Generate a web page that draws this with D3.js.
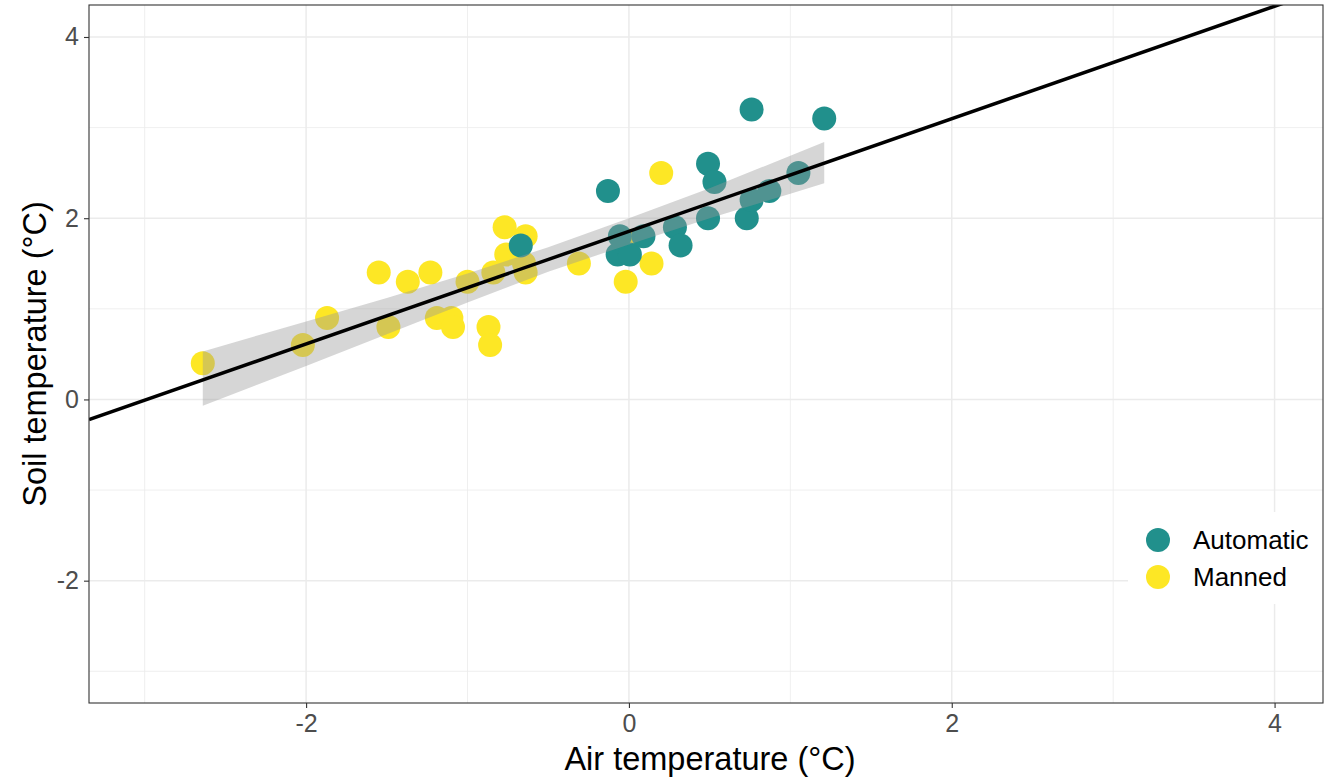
<!DOCTYPE html>
<html>
<head>
<meta charset="utf-8">
<script src="https://cdn.jsdelivr.net/npm/d3@7"></script>
<style>
  html, body { margin: 0; padding: 0; background: #fff; }
  svg { display: block; font-family: "Liberation Sans", Arial, sans-serif; }
</style>
</head>
<body>
<svg id="chart" width="1324" height="777"></svg>
<script>
// ---- data ----
const groups = ["Automatic", "Manned"];
const groupColors = ["#21908C", "#FDE725"];

const mannedX = [-2.64, -2.02, -1.87, -1.55, -1.49, -1.37, -1.23, -1.19, -1.10, -1.09, -1.00, -0.87, -0.86, -0.84, -0.77, -0.76, -0.64, -0.65, -0.64, -0.31, -0.02, 0.14, 0.20, 0.0];
const mannedY = [0.40, 0.60, 0.90, 1.40, 0.80, 1.30, 1.40, 0.90, 0.90, 0.80, 1.30, 0.80, 0.60, 1.40, 1.90, 1.60, 1.80, 1.50, 1.40, 1.50, 1.30, 1.50, 2.50, 1.75];

const autoX = [-0.67, -0.13, -0.07, -0.056, 0.006, 0.09, 0.285, 0.32, 0.49, 0.49, 0.53, 0.73, 0.76, 0.76, 0.87, 1.05, 1.21];
const autoY = [1.70, 2.30, 1.60, 1.80, 1.60, 1.80, 1.90, 1.70, 2.00, 2.60, 2.40, 2.00, 2.20, 3.20, 2.30, 2.50, 3.10];

// confidence band of the fit
const bandX  = [-2.64, -2.0, -1.5, -1.0, -0.5, 0.0, 0.5, 1.0, 1.21];
const bandLo = [-0.07, 0.37, 0.72, 1.07, 1.41, 1.71, 2.00, 2.27, 2.385];
const bandHi = [0.53, 0.86, 1.12, 1.39, 1.68, 2.00, 2.33, 2.69, 2.84];

// fitted line (intercept, slope)
const lineIntercept = 1.855;
const lineSlope = 0.621;

const xMajor = [-2, 0, 2, 4];
const xMinor = [-3, -1, 1, 3];
const yMajor = [-2, 0, 2, 4];
const yMinor = [-3, -1, 1, 3];

const xTitle = "Air temperature (°C)";
const yTitle = "Soil temperature (°C)";

// ---- layout ----
const svg = d3.select("#chart");
const P = { left: 89, right: 1323, top: 5, bottom: 703 };

const x = d3.scaleLinear().domain([-3.345, 4.30]).range([P.left, P.right]);
const y = d3.scaleLinear().domain([-3.35, 4.353]).range([P.bottom, P.top]);

svg.append("defs").append("clipPath").attr("id", "clip")
  .append("rect").attr("x", P.left).attr("y", P.top)
  .attr("width", P.right - P.left).attr("height", P.bottom - P.top);

// panel background
svg.append("rect").attr("x", P.left).attr("y", P.top)
  .attr("width", P.right - P.left).attr("height", P.bottom - P.top)
  .attr("fill", "#fff");

const grid = svg.append("g");
grid.selectAll(".xmin").data(xMinor).join("line")
  .attr("x1", d => x(d)).attr("x2", d => x(d)).attr("y1", P.top).attr("y2", P.bottom)
  .attr("stroke", "#EBEBEB").attr("stroke-width", 0.8);
grid.selectAll(".ymin").data(yMinor).join("line")
  .attr("y1", d => y(d)).attr("y2", d => y(d)).attr("x1", P.left).attr("x2", P.right)
  .attr("stroke", "#EBEBEB").attr("stroke-width", 0.8);
grid.selectAll(".xmaj").data(xMajor).join("line")
  .attr("x1", d => x(d)).attr("x2", d => x(d)).attr("y1", P.top).attr("y2", P.bottom)
  .attr("stroke", "#EBEBEB").attr("stroke-width", 1.5);
grid.selectAll(".ymaj").data(yMajor).join("line")
  .attr("y1", d => y(d)).attr("y2", d => y(d)).attr("x1", P.left).attr("x2", P.right)
  .attr("stroke", "#EBEBEB").attr("stroke-width", 1.5);

const plot = svg.append("g").attr("clip-path", "url(#clip)");

// points
const manned = mannedX.map((v, i) => ({ x: v, y: mannedY[i] }));
const auto = autoX.map((v, i) => ({ x: v, y: autoY[i] }));
const R = 12;
plot.append("g").selectAll("circle").data(manned).join("circle")
  .attr("cx", d => x(d.x)).attr("cy", d => y(d.y)).attr("r", R)
  .attr("fill", groupColors[1]);
plot.append("g").selectAll("circle").data(auto).join("circle")
  .attr("cx", d => x(d.x)).attr("cy", d => y(d.y)).attr("r", R)
  .attr("fill", groupColors[0]);

// band
const band = bandX.map((v, i) => ({ x: v, lo: bandLo[i], hi: bandHi[i] }));
plot.append("path").datum(band)
  .attr("d", d3.area().x(d => x(d.x)).y0(d => y(d.lo)).y1(d => y(d.hi)))
  .attr("fill", "#999999").attr("fill-opacity", 0.4);

// line
const xd = x.domain();
plot.append("line")
  .attr("x1", x(xd[0])).attr("y1", y(lineIntercept + lineSlope * xd[0]))
  .attr("x2", x(xd[1])).attr("y2", y(lineIntercept + lineSlope * xd[1]))
  .attr("stroke", "#000").attr("stroke-width", 3.5);

// legend (inside panel)
const lg = svg.append("g");
lg.append("rect").attr("x", 1128).attr("y", 512).attr("width", 196).attr("height", 92).attr("fill", "#fff");
groups.forEach((g, i) => {
  const cy = 540 + i * 37;
  lg.append("circle").attr("cx", 1158).attr("cy", cy).attr("r", R).attr("fill", groupColors[i]);
  lg.append("text").attr("x", 1193).attr("y", cy).attr("dy", "0.36em")
    .attr("font-size", 26).attr("fill", "#000").text(g);
});

// panel border
svg.append("rect").attr("x", P.left).attr("y", P.top)
  .attr("width", P.right - P.left).attr("height", P.bottom - P.top)
  .attr("fill", "none").attr("stroke", "#333").attr("stroke-width", 1.1);

// axes
const xAxis = svg.append("g").attr("transform", `translate(0,${P.bottom})`)
  .call(d3.axisBottom(x).tickValues(xMajor).tickSize(5).tickPadding(6).tickFormat(d3.format("d")));
const yAxis = svg.append("g").attr("transform", `translate(${P.left},0)`)
  .call(d3.axisLeft(y).tickValues(yMajor).tickSize(5).tickPadding(5).tickFormat(d3.format("d")));
[xAxis, yAxis].forEach(a => {
  a.select(".domain").remove();
  a.selectAll(".tick line").attr("stroke", "#333").attr("stroke-width", 1.1);
  a.selectAll(".tick text").attr("fill", "#4D4D4D").attr("font-size", 25)
    .attr("font-family", "'Liberation Sans', Arial, sans-serif");
});
// use hyphen-minus like the reference
[xAxis, yAxis].forEach(a => a.selectAll(".tick text").text(d => String(d)));

svg.append("text").attr("x", 710).attr("y", 770)
  .attr("text-anchor", "middle").attr("font-size", 32.5).attr("fill", "#000").text(xTitle);
svg.append("text").attr("transform", `translate(46,${(P.top + P.bottom) / 2}) rotate(-90)`)
  .attr("text-anchor", "middle").attr("font-size", 32.5).attr("fill", "#000").text(yTitle);
</script>
</body>
</html>
